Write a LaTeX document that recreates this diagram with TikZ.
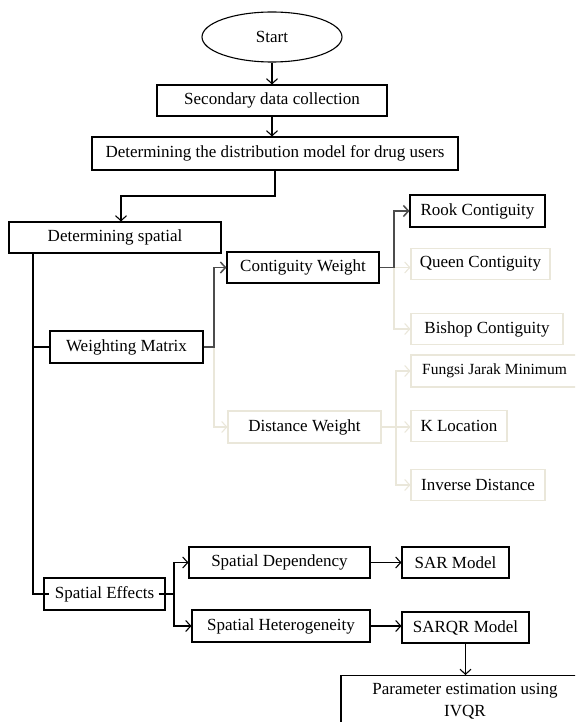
\documentclass[tikz,border=0pt]{standalone}
\usepackage{fontspec}
\setmainfont{Liberation Serif}
\usetikzlibrary{positioning}
\usetikzlibrary{arrows.meta,shapes.geometric}
\definecolor{paleline}{RGB}{234,231,218}

\begin{document}
\begin{tikzpicture}[x=1pt, y=-1pt,
  font=\fontsize{17}{22}\selectfont,
  box/.style={draw, line width=1.1pt, inner sep=0pt, minimum height=31pt},
  pale/.style={draw=paleline, line width=1.1pt, inner sep=0pt, minimum height=31pt},
  arr/.style={-{Straight Barb[length=5pt,width=11pt]}, line width=1.1pt},
  darkarr/.style={arr, draw=black!70, line width=1.5pt},
  palearr/.style={arr, draw=paleline}]

 \clip (0,0) rectangle (575,722);

 %level 1
 \node[draw, ellipse, line width=1.1pt, minimum width=140pt, minimum height=50pt] (start) at (272,37) {Start};
 \node[box, minimum width=230pt] (secondary) at (272,100.5) {Secondary data collection};
 \node[box, minimum width=366pt, minimum height=33pt] (distrib) at (275,153.5) {Determining the distribution model for drug users};

 %level 2
 \node[box, minimum width=212pt] (spatial) at (115,237.5) {Determining spatial};
 \node[box, minimum width=153pt, minimum height=32pt] (wmat) at (126.5,347) {Weighting Matrix};
 \node[box, minimum width=121pt, minimum height=32pt] (seff) at (104.5,594) {Spatial Effects};

 %weights
 \node[box, minimum width=152pt] (contig) at (303,267.5) {Contiguity Weight};
 \node[pale, minimum width=153pt, minimum height=32pt] (distw) at (304.5,427) {Distance Weight};
 \node[box, minimum width=135pt, minimum height=32pt] (rook) at (477.5,211) {Rook Contiguity};
 \foreach \name/\x/\y/\w/\txt in {queen/480.5/264/139/Queen Contiguity,
                                  bishop/487/329/152/Bishop Contiguity,
                                  kloc/459/426/96/K Location,
                                  invd/478/485/134/Inverse Distance} {
         \node[pale, minimum width=\w pt, minimum height=31pt] (\name) at (\x,\y) {\txt};
 }
 \node[pale, minimum width=167pt, minimum height=32pt, font=\fontsize{15.5}{19}\selectfont] (fungsi) at (494.5,371) {Fungsi Jarak Minimum};

 %effects
 \node[box, minimum width=181pt] (sdep) at (279.5,562.5) {Spatial Dependency};
 \node[box, minimum width=178pt, minimum height=32pt] (shet) at (281,626) {Spatial Heterogeneity};
 \node[box, minimum width=107pt] (sar) at (455.5,562.5) {SAR Model};
 \node[box, minimum width=127pt] (sarqr) at (465.5,627.5) {SARQR Model};
 \node[box, minimum width=248pt, minimum height=52pt, align=center, anchor=north] (param) at (465,675) {Parameter estimation using\\IVQR};

 %connectors
 \coordinate (j1) at (121,196);
 \coordinate (trunk) at (33,0);
 \coordinate (b1) at (214,0);
 \coordinate (b2) at (394,0);
 \coordinate (b3) at (396,0);
 \coordinate (b4) at (174,0);

 \draw[arr] (start) -- (secondary);
 \draw[arr] (secondary.south) -- (secondary.south |- distrib.north);
 \draw[arr] (distrib.south) |- (j1) -- (j1 |- spatial.north);

 \draw[line width=1.1pt] (spatial.south -| trunk) |- ([xshift=6pt]seff.west);
 \draw[line width=1.1pt] (trunk |- wmat.west) -- (wmat.west);

 \draw[palearr] (b1 |- wmat.east) |- (distw.west);
 \draw[darkarr] (wmat.east) -- (b1 |- wmat.east) |- (contig.west);

 \draw[palearr] (b2 |- contig.east) -- (queen.west |- contig.east);
 \draw[palearr] (b2 |- contig.east) |- (bishop.west);
 \draw[darkarr] (contig.east) -- (b2 |- contig.east) |- (rook.west);

 \draw[palearr] (distw.east) -- (b3 |- distw.east) -- (kloc.west |- distw.east);
 \draw[palearr] (b3 |- distw.east) |- (fungsi.west);
 \draw[palearr] (b3 |- distw.east) |- (invd.west);

 \draw[arr] ([xshift=-7pt]seff.east) -- (b4 |- seff.east) |- (sdep.west);
 \draw[arr] (b4 |- seff.east) |- (shet.west);
 \draw[arr] (sdep) -- (sar);
 \draw[arr] (shet.east) -- (shet.east -| sarqr.west);
 \draw[arr] (sarqr.south) -- (sarqr.south |- param.north);

\end{tikzpicture}
\end{document}
